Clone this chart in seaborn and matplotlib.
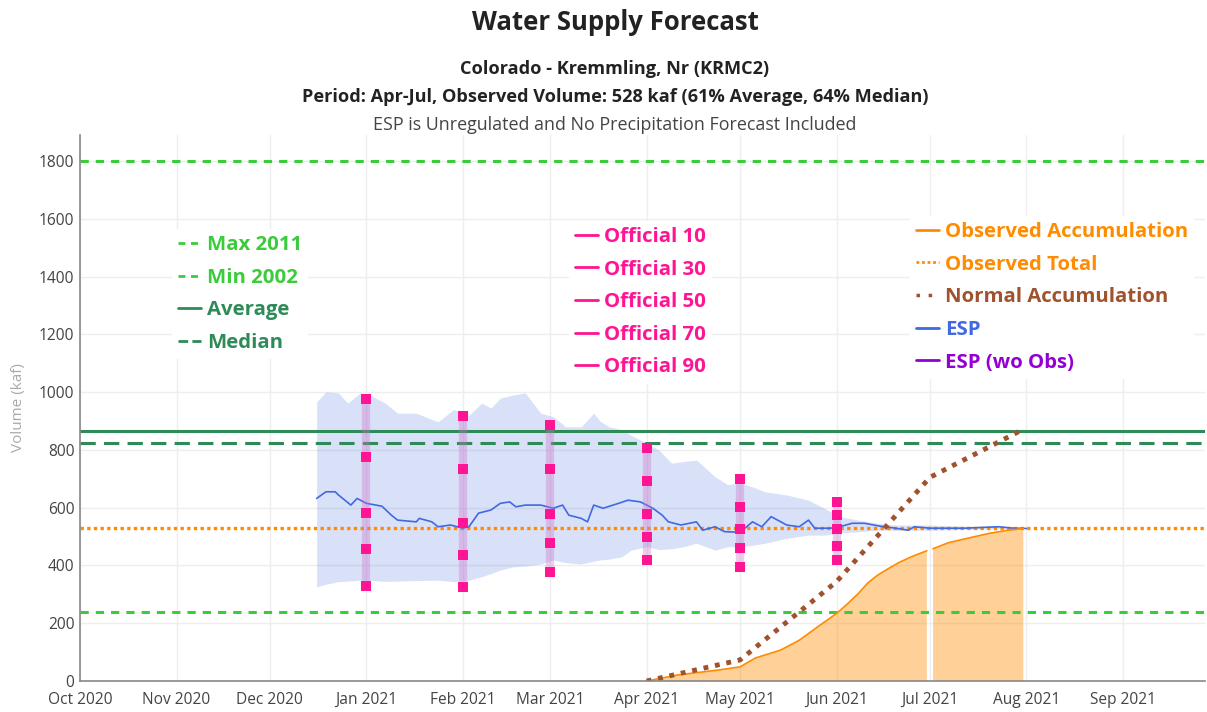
import numpy as np
import pandas as pd
import matplotlib
matplotlib.use("Agg")
import matplotlib.pyplot as plt
import matplotlib.dates as mdates
from matplotlib.lines import Line2D
import seaborn as sns

# reference volumes (kaf)
max_2011 = 1800
min_2002 = 240
average = 866
median = 825
observed_total = 528

# ESP median trace
esp_dates = ["2020-12-16", "2020-12-19", "2020-12-22", "2020-12-23", "2020-12-27", "2020-12-29",
             "2021-01-01", "2021-01-06", "2021-01-09", "2021-01-11", "2021-01-17", "2021-01-18",
             "2021-01-22", "2021-01-24", "2021-01-28", "2021-02-01", "2021-02-03", "2021-02-06",
             "2021-02-10", "2021-02-13", "2021-02-16", "2021-02-18", "2021-02-21", "2021-02-26",
             "2021-03-02", "2021-03-05", "2021-03-07", "2021-03-11", "2021-03-13", "2021-03-15",
             "2021-03-18", "2021-03-23", "2021-03-26", "2021-03-30", "2021-04-03", "2021-04-06",
             "2021-04-08", "2021-04-12", "2021-04-17", "2021-04-19", "2021-04-23", "2021-04-26",
             "2021-05-01", "2021-05-05", "2021-05-08", "2021-05-11", "2021-05-16", "2021-05-20",
             "2021-05-23", "2021-05-25", "2021-05-30", "2021-06-02", "2021-06-06", "2021-06-10",
             "2021-06-15", "2021-06-20", "2021-06-24", "2021-06-26", "2021-07-01", "2021-07-12",
             "2021-07-23", "2021-07-28", "2021-08-01"]
esp_values = [632, 655, 655, 644, 609, 632,
              615, 605, 574, 557, 551, 563,
              551, 534, 540, 529, 535, 581,
              592, 615, 620, 603, 609, 609,
              598, 609, 574, 563, 551, 609,
              598, 615, 626, 620, 598, 574,
              551, 540, 551, 522, 534, 517,
              515, 551, 534, 569, 540, 534,
              557, 529, 529, 534, 546, 546,
              536, 529, 522, 534, 529, 529,
              534, 529, 528]

# ESP spread (shaded band)
band_dates = ["2020-12-16", "2020-12-19", "2020-12-23", "2020-12-26", "2020-12-30", "2021-01-03",
              "2021-01-07", "2021-01-11", "2021-01-17", "2021-01-24", "2021-01-29", "2021-02-03",
              "2021-02-07", "2021-02-10", "2021-02-13", "2021-02-17", "2021-02-21", "2021-02-26",
              "2021-03-02", "2021-03-06", "2021-03-11", "2021-03-15", "2021-03-17", "2021-03-20",
              "2021-03-24", "2021-03-27", "2021-04-01", "2021-04-05", "2021-04-09", "2021-04-13",
              "2021-04-17", "2021-04-23", "2021-04-27", "2021-05-01", "2021-05-05", "2021-05-09",
              "2021-05-16", "2021-05-23", "2021-05-28", "2021-06-02", "2021-06-08", "2021-06-14",
              "2021-06-20", "2021-07-01", "2021-07-12", "2021-07-28", "2021-08-01"]
band_upper = [966, 1001, 997, 962, 997, 985,
              962, 927, 927, 897, 940, 920,
              962, 945, 979, 990, 997, 927,
              915, 880, 880, 927, 900, 880,
              870, 850, 824, 799, 754, 760,
              765, 707, 680, 685, 672, 655,
              644, 626, 598, 569, 557, 546,
              540, 540, 536, 533, 530]
band_lower = [326, 335, 344, 346, 349, 348,
              345, 346, 348, 349, 344, 349,
              361, 372, 384, 395, 398, 405,
              419, 410, 405, 415, 419, 422,
              430, 453, 465, 455, 458, 465,
              477, 453, 465, 465, 470, 477,
              494, 505, 505, 512, 517, 522,
              522, 522, 525, 528, 528]

# official forecasts (exceedance percentiles)
official_dates = ["2021-01-01", "2021-02-01", "2021-03-01", "2021-04-01", "2021-05-01", "2021-06-01"]
official_10 = [975, 918, 886, 805, 701, 620]
official_30 = [774, 733, 733, 693, 601, 574]
official_50 = [580, 548, 579, 579, 525, 525]
official_70 = [457, 436, 479, 499, 459, 468]
official_90 = [330, 324, 376, 418, 396, 419]

# observed accumulation (missing on Jul 1)
obs_dates = ["2021-04-01", "2021-04-11", "2021-04-24", "2021-05-01", "2021-05-06", "2021-05-14",
             "2021-05-20", "2021-05-26", "2021-06-01", "2021-06-04", "2021-06-08", "2021-06-11",
             "2021-06-14", "2021-06-17", "2021-06-21", "2021-06-25", "2021-06-30", "2021-07-01",
             "2021-07-02", "2021-07-07", "2021-07-13", "2021-07-20", "2021-07-26", "2021-07-31"]
obs_values = [0, 21, 38, 49, 80, 107,
              141, 188, 234, 262, 303, 339,
              365, 385, 410, 430, 451, np.nan,
              458, 479, 494, 511, 522, 528]

# normal accumulation
normal_dates = ["2021-04-01", "2021-05-01", "2021-06-01", "2021-07-01", "2021-07-30"]
normal_values = [0, 73, 344, 705, 866]

month_ticks = pd.date_range("2020-10-01", "2021-09-01", freq="MS")

green = "#3bcc3b"
dkgreen = "#2e8b57"
pink = "#ff1493"
orange = "#ff8c00"
brown = "#a0522d"
blue = "#4169e1"
violet = "#9400d3"

sns.set_style("white")
plt.rcParams["font.family"] = ["Open Sans", "DejaVu Sans"]

fig = plt.figure(figsize=(12.07, 7.12), dpi=100)
ax = fig.add_axes([0.0663, 0.0435, 0.932, 0.7669])

esp = pd.DataFrame({"date": pd.to_datetime(esp_dates), "value": esp_values})
band = pd.DataFrame({"date": pd.to_datetime(band_dates), "upper": band_upper, "lower": band_lower})
obs = pd.DataFrame({"date": pd.to_datetime(obs_dates), "value": obs_values})
normal = pd.DataFrame({"date": pd.to_datetime(normal_dates), "value": normal_values})
odates = pd.to_datetime(official_dates)

ax.grid(True, color="#eeeeee", lw=1)
ax.set_axisbelow(True)

ax.fill_between(band["date"], band["lower"], band["upper"], color=blue, alpha=0.2, lw=0)
ax.fill_between(obs["date"], 0, obs["value"], color=orange, alpha=0.4, lw=0)

ax.axhline(max_2011, color=green, lw=2.2, ls=(0, (2.7, 2.3)))
ax.axhline(min_2002, color=green, lw=2.2, ls=(0, (2.7, 2.3)))
ax.axhline(average, color=dkgreen, lw=2.2)
ax.axhline(median, color=dkgreen, lw=2.2, ls=(0, (5, 2.7)))
ax.axhline(observed_total, color=orange, lw=2.4, ls=(0, (1, 1)))

sns.lineplot(data=esp, x="date", y="value", ax=ax, color=blue, lw=1.2)
ax.plot(obs["date"], obs["value"], color=orange, lw=1.2)
sns.lineplot(data=normal, x="date", y="value", ax=ax, color=brown, lw=3.5,
             ls=(0, (1, 1.4)))

ax.vlines(odates, official_90, official_10, color="#d070c8", alpha=0.35, lw=6)
for vals in [official_10, official_30, official_50, official_70, official_90]:
    sns.scatterplot(x=odates, y=vals, ax=ax, marker="s", s=44, color=pink, linewidth=0, zorder=5)

ax.set_xlim(pd.Timestamp("2020-10-01"), pd.Timestamp("2021-09-27 08:00"))
ax.set_ylim(0, 1890)
ax.set_yticks(range(0, 1801, 200))
ax.set_xticks(month_ticks)
ax.xaxis.set_major_formatter(mdates.DateFormatter("%b %Y"))
ax.tick_params(axis="both", labelsize=11.2, colors="#444444", length=0, pad=4)
ax.tick_params(axis="x", pad=8)
ax.set_xlabel("")
ax.set_ylabel("Volume (kaf)", color="#aaaaaa", fontsize=11, labelpad=9)
for s in ["top", "right"]:
    ax.spines[s].set_visible(False)
for s in ["left", "bottom"]:
    ax.spines[s].set_color("#888888")
    ax.spines[s].set_linewidth(1.2)

fig.text(0.5095, 0.969, "Water Supply Forecast", ha="center", va="center",
         fontsize=18.5, fontweight="bold", color="#222222")
fig.text(0.5095, 0.9035, "Colorado - Kremmling, Nr (KRMC2)", ha="center", va="center",
         fontsize=13.1, fontweight="bold", color="#222222")
fig.text(0.5095, 0.864, "Period: Apr-Jul, Observed Volume: 528 kaf (61% Average, 64% Median)",
         ha="center", va="center", fontsize=13.1, fontweight="bold", color="#222222")
fig.text(0.5095, 0.825, "ESP is Unregulated and No Precipitation Forecast Included",
         ha="center", va="center", fontsize=12.9, color="#444444")

legend_kw = dict(loc="upper left", frameon=True, facecolor="white", edgecolor="none",
                 framealpha=1, prop={"weight": "bold", "size": 14.7}, handlelength=1.1,
                 handletextpad=0.3, labelspacing=0.62, borderpad=0.3, borderaxespad=0)

h1 = [Line2D([], [], color=green, lw=2, ls=(0, (2.5, 2))),
      Line2D([], [], color=green, lw=2, ls=(0, (2.5, 2))),
      Line2D([], [], color=dkgreen, lw=2),
      Line2D([], [], color=dkgreen, lw=2, ls=(0, (3.5, 1.5)))]
l1 = ["Max 2011", "Min 2002", "Average", "Median"]
leg1 = ax.legend(h1, l1, bbox_to_anchor=(0.0818, 0.828),
                 labelcolor=[green, green, dkgreen, dkgreen], **legend_kw)
ax.add_artist(leg1)

h2 = [Line2D([], [], color=pink, lw=2) for _ in range(5)]
l2 = ["Official 10", "Official 30", "Official 50", "Official 70", "Official 90"]
leg2 = ax.legend(h2, l2, bbox_to_anchor=(0.4347, 0.843), labelcolor=[pink] * 5, **legend_kw)
ax.add_artist(leg2)

h3 = [Line2D([], [], color=orange, lw=2),
      Line2D([], [], color=orange, lw=2, ls=(0, (1, 1))),
      Line2D([], [], color=brown, lw=2.5, ls=(0, (1, 2.5))),
      Line2D([], [], color=blue, lw=2),
      Line2D([], [], color=violet, lw=2)]
l3 = ["Observed Accumulation", "Observed Total", "Normal Accumulation", "ESP", "ESP (wo Obs)"]
leg3 = ax.legend(h3, l3, bbox_to_anchor=(0.7378, 0.852),
                 labelcolor=[orange, orange, brown, blue, violet], **legend_kw)

fig.savefig("out.png", dpi=100)
